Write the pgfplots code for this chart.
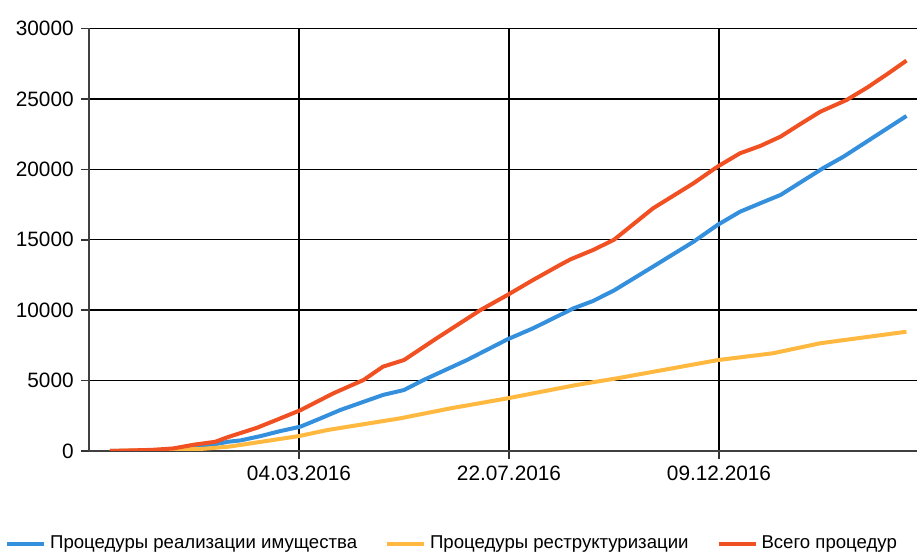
\documentclass[border=0pt]{standalone}
\usepackage{pgfplots}
\pgfplotsset{compat=1.18}
\usepackage{fontspec}
\setmainfont{Liberation Sans}

\definecolor{cblue}{RGB}{52,144,220}
\definecolor{cyel}{RGB}{255,184,64}
\definecolor{cred}{RGB}{240,80,34}

\begin{document}
\fontsize{10.4}{12}\selectfont
\begin{tikzpicture}
  % page = 917x552 px at 0.5pt per px
  \path[use as bounding box] (0,0) rectangle (458.5pt,276pt);
  \begin{axis}[
    at={(44.5pt,50.5pt)}, anchor=south west,
    scale only axis, width=414pt, height=211.25pt,
    xmin=-140, xmax=412, ymin=0, ymax=30000,
    axis lines=left, axis line style={-, draw=black!75, line width=1pt},
    xtick={0,140,280},
    xticklabels={04.03.2016,22.07.2016,09.12.2016},
    ytick={0,5000,...,30000},
    scaled ticks=false,
    tick align=outside, tick style={black!80, line width=0.8pt},
    major tick length=4pt,
    grid=major, grid style={black, line width=0.75pt},
    /pgf/number format/.cd, 1000 sep={}, assume math mode=true,
    /pgfplots/.cd,
    legend columns=3,
    legend style={draw=none, fill=none, at={(-0.109,-0.22)}, anchor=west,
      /tikz/every even column/.append style={column sep=12pt},
      font=\fontsize{9.3}{11}\selectfont},
    legend image code/.code={\draw[#1] (0pt,0pt) -- (18.5pt,0pt);},
    every axis plot/.append style={line width=2pt, line join=round},
  ]
  % x = days from 04.03.2016
  \addplot[cblue] coordinates {
    (-126,0) (-98,30) (-84,80) (-66,280) (-47,660) (-39,750) (-26,1050)
    (-13,1400) (1,1730) (14,2300) (27.5,2910) (56,3980) (70,4330) (83,5040)
    (112,6460) (139,7930) (156,8710) (183,10130) (196,10650) (210,11400)
    (236,13090) (263,14860) (279,16050) (294,16990) (307.5,17590)
    (321,18180) (349.5,20090) (363,20900) (405,23790)
  };
  \addlegendentry{Процедуры реализации имущества}
  \addplot[cyel] coordinates {
    (-126,0) (-66,140) (-47,305) (-39,430) (0,1060) (19,1490) (67.5,2320)
    (101,3030) (139,3740) (185,4690) (212,5160) (279.5,6460) (316,6940)
    (347.5,7650) (405,8470)
  };
  \addlegendentry{Процедуры реструктуризации}
  \addplot[cred] coordinates {
    (-126,0) (-98,80) (-84,180) (-70,450) (-56,650) (-47,1000) (-28,1650)
    (-14,2250) (1,2900) (23,4100) (43,5040) (56,5990) (70,6460) (90,7880)
    (121,10010) (139,11080) (156,12140) (174,13210) (181,13610)
    (196,14270) (210,15000) (236,17230) (263,19010) (279,20190)
    (294,21140) (307.5,21660) (321,22320) (334,23200) (347.5,24090)
    (365,24920) (379,25820) (392,26750) (405,27720)
  };
  \addlegendentry{Всего процедур}
  \end{axis}
\end{tikzpicture}
\end{document}
